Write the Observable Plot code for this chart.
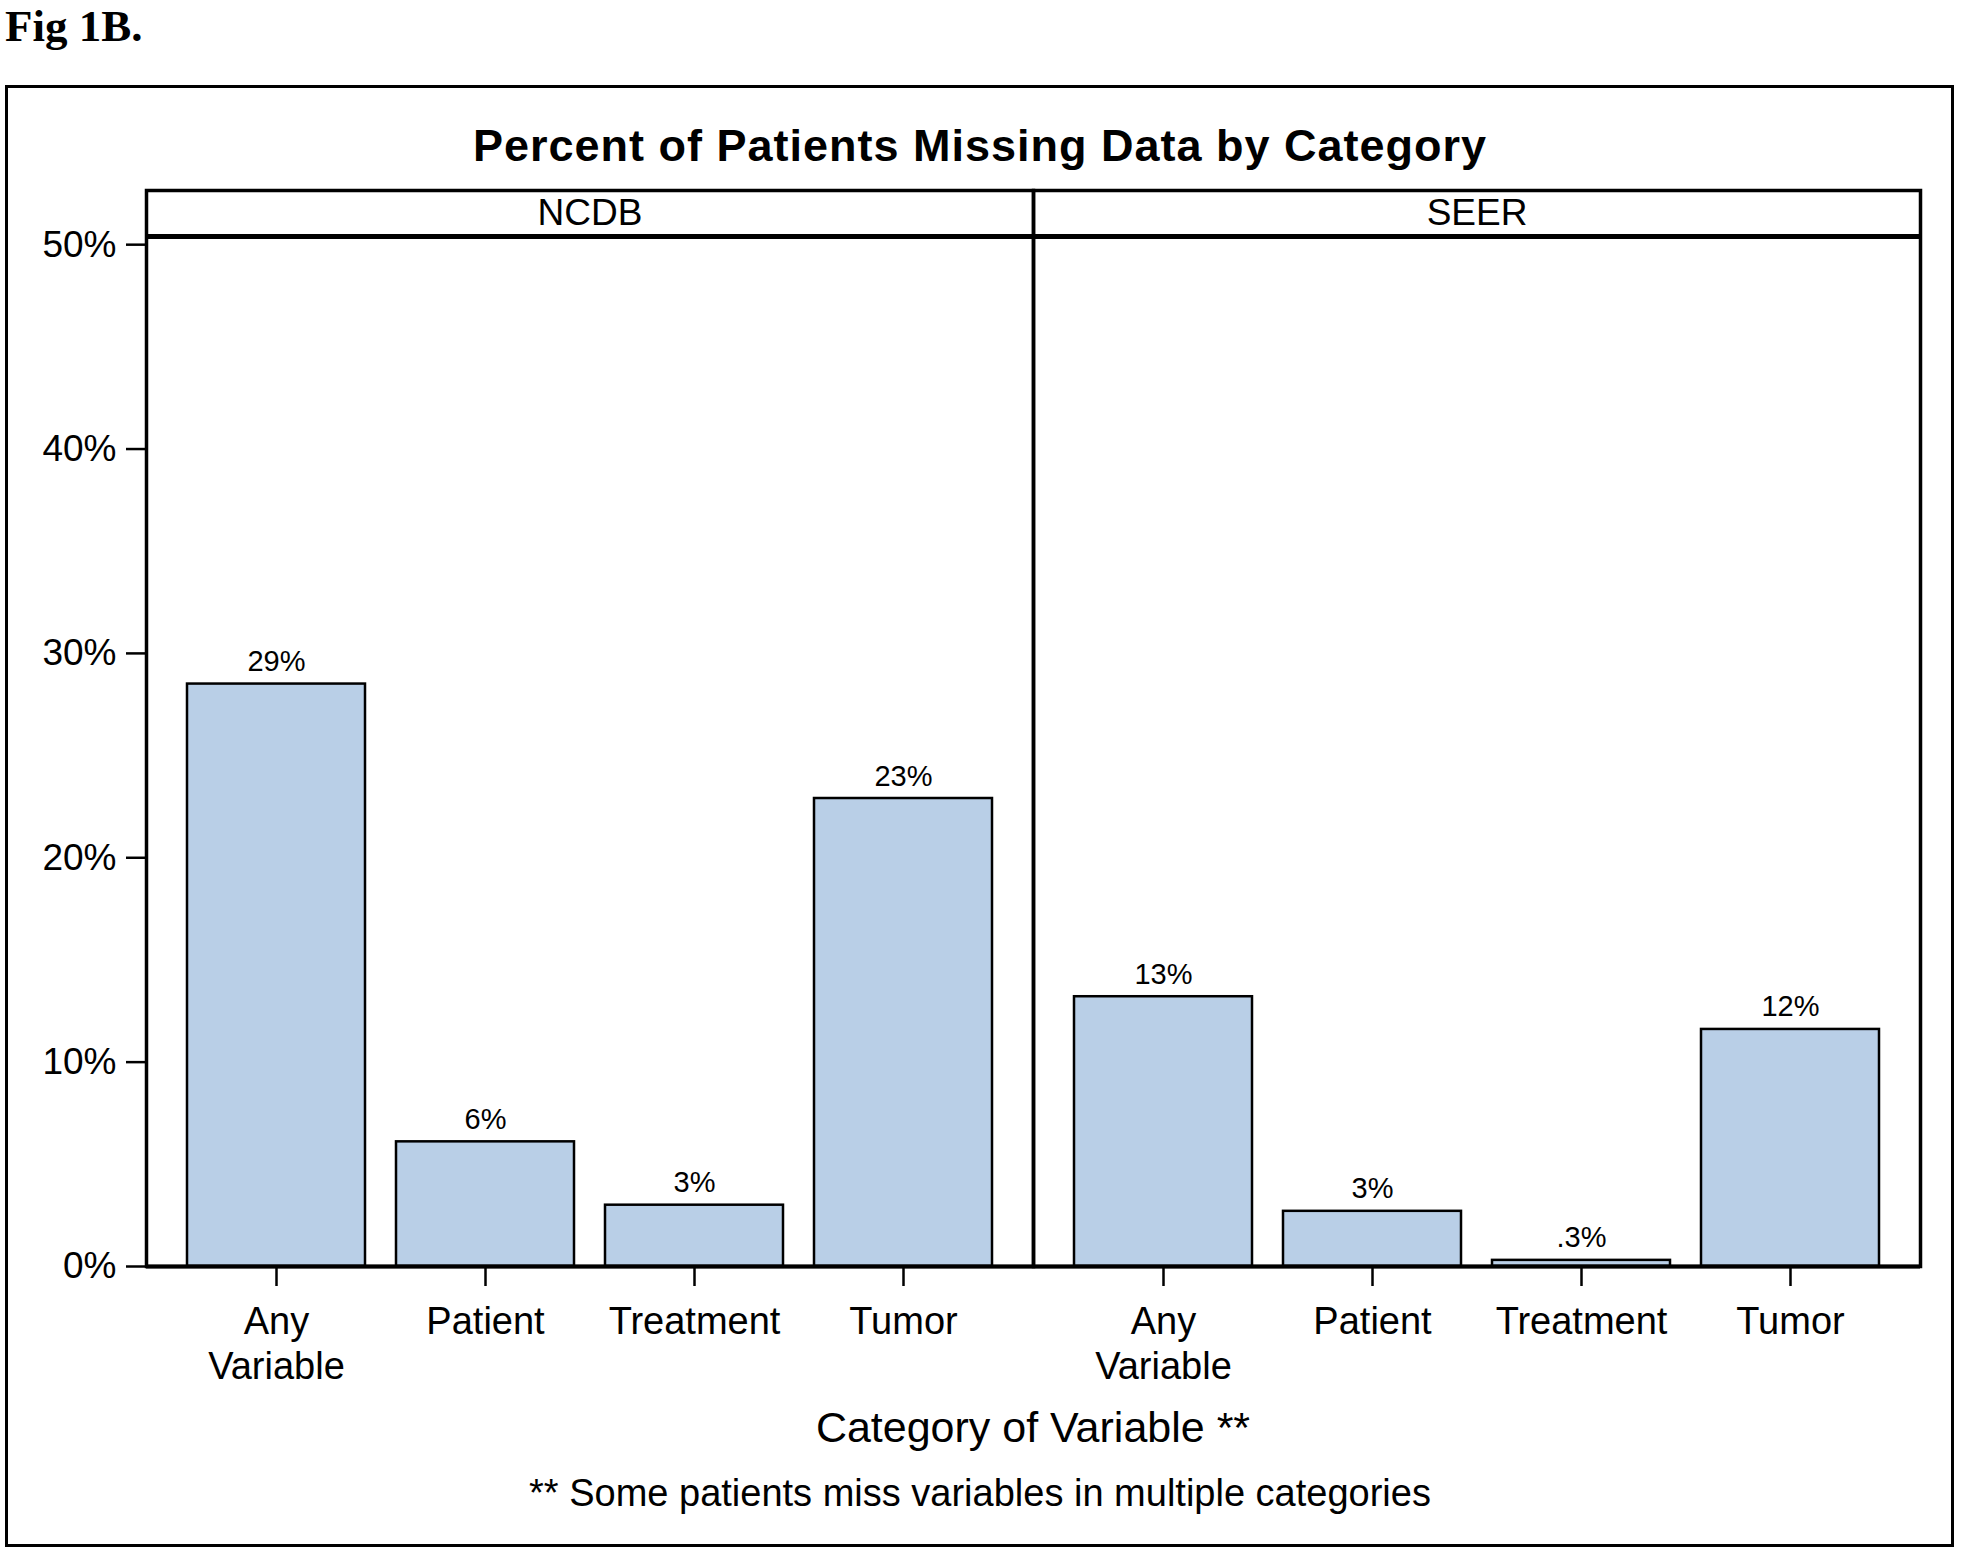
<!DOCTYPE html>
<html><head><meta charset="utf-8">
<script src="https://cdn.jsdelivr.net/npm/d3@7"></script>
<script src="https://cdn.jsdelivr.net/npm/@observablehq/plot@0.6"></script>
<style>
html,body{margin:0;padding:0;background:#fff;overflow:hidden;}
#wrap{position:relative;width:1961px;height:1553px;}
#wrap > svg{position:absolute;left:0;top:0;}
</style></head><body><div id="wrap"></div>
<script>
const databases = ["NCDB", "SEER"];
const categories = ["Any\nVariable", "Patient", "Treatment", "Tumor"];
const ncdbValues = [28.5, 6.1, 3.0, 22.9];
const seerValues = [13.2, 2.7, 0.3, 11.6];
const ncdbLabels = ["29%", "6%", "3%", "23%"];
const seerLabels = ["13%", "3%", ".3%", "12%"];
const yTicks = [0, 10, 20, 30, 40, 50];
const figLabel = "Fig 1B.";
const title = "Percent of Patients Missing Data by Category";
const xLabel = "Category of Variable **";
const footnote = "** Some patients miss variables in multiple categories";

const rows = [];
categories.forEach((c, i) => rows.push({db: "NCDB", cat: c, value: ncdbValues[i], label: ncdbLabels[i]}));
categories.forEach((c, i) => rows.push({db: "SEER", cat: c, value: seerValues[i], label: seerLabels[i]}));

const panelTop = 50.4;          // top of the data area, in %
const stripFrac = 46 / 1030;    // header strip height relative to data area
const yMax = panelTop * (1 + stripFrac);
const stripMid = (panelTop + yMax) / 2;

const chart = Plot.plot({
  width: 1961, height: 1553,
  marginLeft: 146, marginRight: 41, marginTop: 190, marginBottom: 287,
  style: {fontFamily: "'Liberation Sans', Arial, sans-serif", background: "transparent", color: "#000", overflow: "visible"},
  fx: {domain: databases, padding: 0, axis: null},
  x: {domain: categories, paddingInner: 0.148, paddingOuter: 0.19},
  y: {domain: [0, yMax]},
  marks: [
    Plot.barY(rows, {fx: "db", x: "cat", y: "value", fill: "#b9cfe7", stroke: "#000", strokeWidth: 2.5}),
    Plot.text(rows, {fx: "db", x: "cat", y: "value", text: "label", dy: -13, lineAnchor: "bottom", fontSize: 29, fill: "#000"}),
    Plot.axisY({ticks: yTicks, tickFormat: d => d + "%", tickSize: 20, tickPadding: 10, fontSize: 37, strokeWidth: 2.5, label: null}),
    Plot.axisX({tickSize: 20, tickPadding: 16, fontSize: 38, lineHeight: 1.18, strokeWidth: 2.5, label: null}),
    Plot.frame({stroke: "#000", strokeWidth: 3.5}),
    Plot.ruleY([panelTop], {stroke: "#000", strokeWidth: 5}),
    Plot.ruleY([0], {stroke: "#000", strokeWidth: 4}),
    Plot.text(databases, {fx: d => d, y: () => stripMid, text: d => d, lineAnchor: "middle", fontSize: 37, fill: "#000"})
  ]
});
const wrap = document.getElementById("wrap");
wrap.appendChild(chart);

const ns = "http://www.w3.org/2000/svg";
const ov = document.createElementNS(ns, "svg");
ov.setAttribute("width", 1961);
ov.setAttribute("height", 1553);
ov.style.fontFamily = "'Liberation Sans', Arial, sans-serif";
function el(tag, attrs, txt) {
  const e = document.createElementNS(ns, tag);
  for (const k in attrs) e.setAttribute(k, attrs[k]);
  if (txt != null) e.textContent = txt;
  ov.appendChild(e);
  return e;
}
el("rect", {x: 6.5, y: 86.5, width: 1946, height: 1459, fill: "none", stroke: "#000", "stroke-width": 3});
el("text", {x: 5, y: 41, "font-family": "'Liberation Serif', 'Times New Roman', serif", "font-weight": "bold", "font-size": 45}, figLabel);
el("text", {x: 980, y: 161, "text-anchor": "middle", "font-weight": "bold", "font-size": 45, "letter-spacing": 1}, title);
el("text", {x: 1033, y: 1442, "text-anchor": "middle", "font-size": 43}, xLabel);
el("text", {x: 980, y: 1506, "text-anchor": "middle", "font-size": 38}, footnote);
wrap.appendChild(ov);
</script>
</body></html>
